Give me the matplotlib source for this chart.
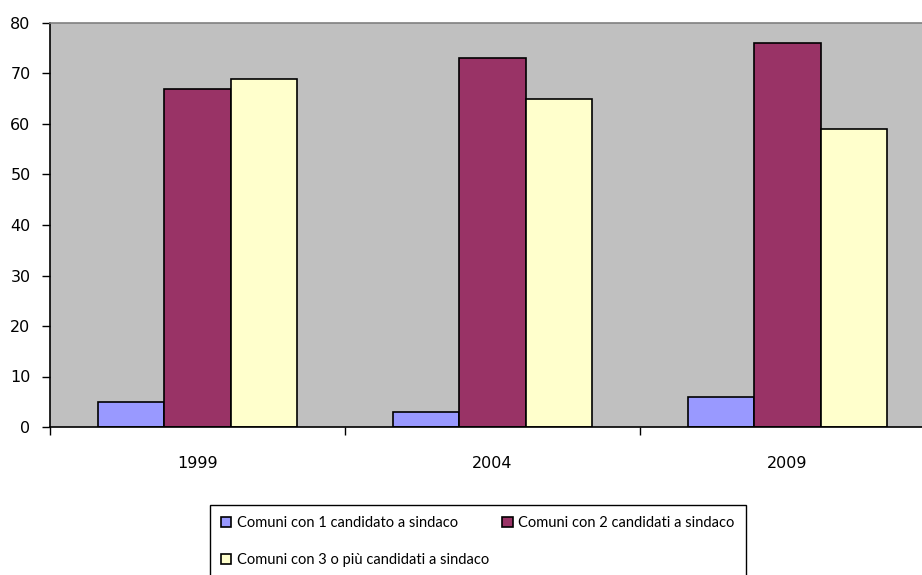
import matplotlib

matplotlib.use("Agg")

import matplotlib.pyplot as plt
import numpy as np

plt.rcParams["font.family"] = "DejaVu Sans"

years = ["1999", "2004", "2009"]
series_labels = [
    "Comuni con 1 candidato a sindaco",
    "Comuni con 2 candidati a sindaco",
    "Comuni con 3 o più candidati a sindaco",
]
one_candidate = [5, 3, 6]
two_candidates = [67, 73, 76]
three_plus = [69, 65, 59]

colors = ["#9999ff", "#993366", "#ffffcc"]
W, H = 922, 575

fig = plt.figure(figsize=(W / 100, H / 100), dpi=100)
ax = fig.add_axes([50 / W, 1 - 427 / H, 885 / W, 404 / H])
ax.set_facecolor("#c0c0c0")

x = np.arange(len(years))
width = 0.225
for i, (vals, color, label) in enumerate(zip([one_candidate, two_candidates, three_plus], colors, series_labels)):
    ax.bar(x + (i - 1) * width, vals, width, color=color, edgecolor="black",
           linewidth=1.2, label=label, zorder=2)

ax.set_xlim(-0.5, 2.5)
ax.set_ylim(0, 80)
ax.set_yticks(range(0, 81, 10))
ax.tick_params(axis="y", direction="out", length=6, width=1, labelsize=11.5, pad=8)

ax.set_xticks(x)
ax.set_xticklabels(years, fontsize=11.5)
ax.tick_params(axis="x", which="major", length=0, pad=21)
ax.set_xticks([-0.5, 0.5, 1.5, 2.5], minor=True)
ax.tick_params(axis="x", which="minor", direction="out", length=6, width=1)

ax.spines["top"].set_color("#808080")
ax.spines["right"].set_color("#808080")
ax.spines["left"].set_color("black")
ax.spines["bottom"].set_color("black")
for s in ax.spines.values():
    s.set_linewidth(1.2)

# legend is filled row by row in the reference
handles, labels = ax.get_legend_handles_labels()
order = [0, 2, 1]
leg = fig.legend(
    [handles[k] for k in order], [labels[k] for k in order],
    loc="upper left",
    bbox_to_anchor=(210 / W, 1 - 505 / H),
    ncol=2,
    frameon=True,
    fancybox=False,
    edgecolor="black",
    framealpha=1,
    prop={"family": "Lato", "size": 10.5},
    handlelength=0.7,
    handleheight=0.7,
    handletextpad=0.4,
    columnspacing=0.9,
    borderpad=0.75,
    labelspacing=1.6,
    borderaxespad=0,
)
leg.get_frame().set_linewidth(1.0)

fig.savefig("out.png", dpi=100)
